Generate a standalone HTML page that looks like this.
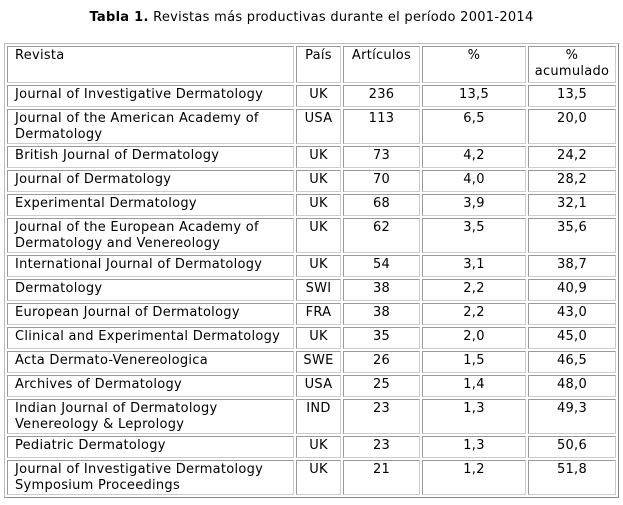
<!DOCTYPE html>
<html><head><style>
body{margin:0;background:#fff;font-family:"DejaVu Sans",Verdana,sans-serif;font-size:13px;letter-spacing:0.28px;color:#000;}
.t{position:absolute;top:10px;left:0;width:623px;text-align:center;line-height:16px;}
table{position:absolute;left:4px;top:43px;border-collapse:separate;border-spacing:2px;border:1px solid #bbb;border-right-color:#888;border-bottom-color:#888;}
td{border:1px solid #999;border-right-color:#ccc;border-bottom-color:#ccc;padding:1px 3px 0 7px;vertical-align:top;line-height:16px;box-sizing:border-box;}
td span{position:relative;top:1px;}
td.c{text-align:center;padding:1px 2px 0 2px;}
</style></head><body>
<div class="t"><b>Tabla 1.</b> Revistas más productivas durante el período 2001-2014</div>
<table>
<colgroup><col style="width:287px"><col style="width:45px"><col style="width:77px"><col style="width:104px"><col style="width:88px"></colgroup>
<tr style="height:37px"><td>Revista</td><td class="c">País</td><td class="c">Artículos</td><td class="c">%</td><td class="c">%<br>acumulado</td></tr>
<tr style="height:22px"><td>Journal of Investigative Dermatology</td><td class="c">UK</td><td class="c">236</td><td class="c">13,5</td><td class="c">13,5</td></tr>
<tr style="height:34px"><td>Journal of the American Academy of Dermatology</td><td class="c">USA</td><td class="c">113</td><td class="c">6,5</td><td class="c">20,0</td></tr>
<tr style="height:22px"><td>British Journal of Dermatology</td><td class="c">UK</td><td class="c">73</td><td class="c">4,2</td><td class="c">24,2</td></tr>
<tr style="height:22px"><td>Journal of Dermatology</td><td class="c">UK</td><td class="c">70</td><td class="c">4,0</td><td class="c">28,2</td></tr>
<tr style="height:22px"><td>Experimental Dermatology</td><td class="c">UK</td><td class="c">68</td><td class="c">3,9</td><td class="c">32,1</td></tr>
<tr style="height:35px"><td>Journal of the European Academy of Dermatology and Venereology</td><td class="c">UK</td><td class="c">62</td><td class="c">3,5</td><td class="c">35,6</td></tr>
<tr style="height:22px"><td>International Journal of Dermatology</td><td class="c">UK</td><td class="c">54</td><td class="c">3,1</td><td class="c">38,7</td></tr>
<tr style="height:22px"><td>Dermatology</td><td class="c">SWI</td><td class="c">38</td><td class="c">2,2</td><td class="c">40,9</td></tr>
<tr style="height:22px"><td>European Journal of Dermatology</td><td class="c">FRA</td><td class="c">38</td><td class="c">2,2</td><td class="c">43,0</td></tr>
<tr style="height:22px"><td>Clinical and Experimental Dermatology</td><td class="c">UK</td><td class="c">35</td><td class="c">2,0</td><td class="c">45,0</td></tr>
<tr style="height:22px"><td>Acta Dermato-Venereologica</td><td class="c">SWE</td><td class="c">26</td><td class="c">1,5</td><td class="c">46,5</td></tr>
<tr style="height:22px"><td>Archives of Dermatology</td><td class="c">USA</td><td class="c">25</td><td class="c">1,4</td><td class="c">48,0</td></tr>
<tr style="height:35px"><td>Indian Journal of Dermatology Venereology &amp; Leprology</td><td class="c">IND</td><td class="c">23</td><td class="c">1,3</td><td class="c">49,3</td></tr>
<tr style="height:22px"><td>Pediatric Dermatology</td><td class="c">UK</td><td class="c">23</td><td class="c">1,3</td><td class="c">50,6</td></tr>
<tr style="height:35px"><td>Journal of Investigative Dermatology Symposium Proceedings</td><td class="c">UK</td><td class="c">21</td><td class="c">1,2</td><td class="c">51,8</td></tr>
</table>
</body></html>
